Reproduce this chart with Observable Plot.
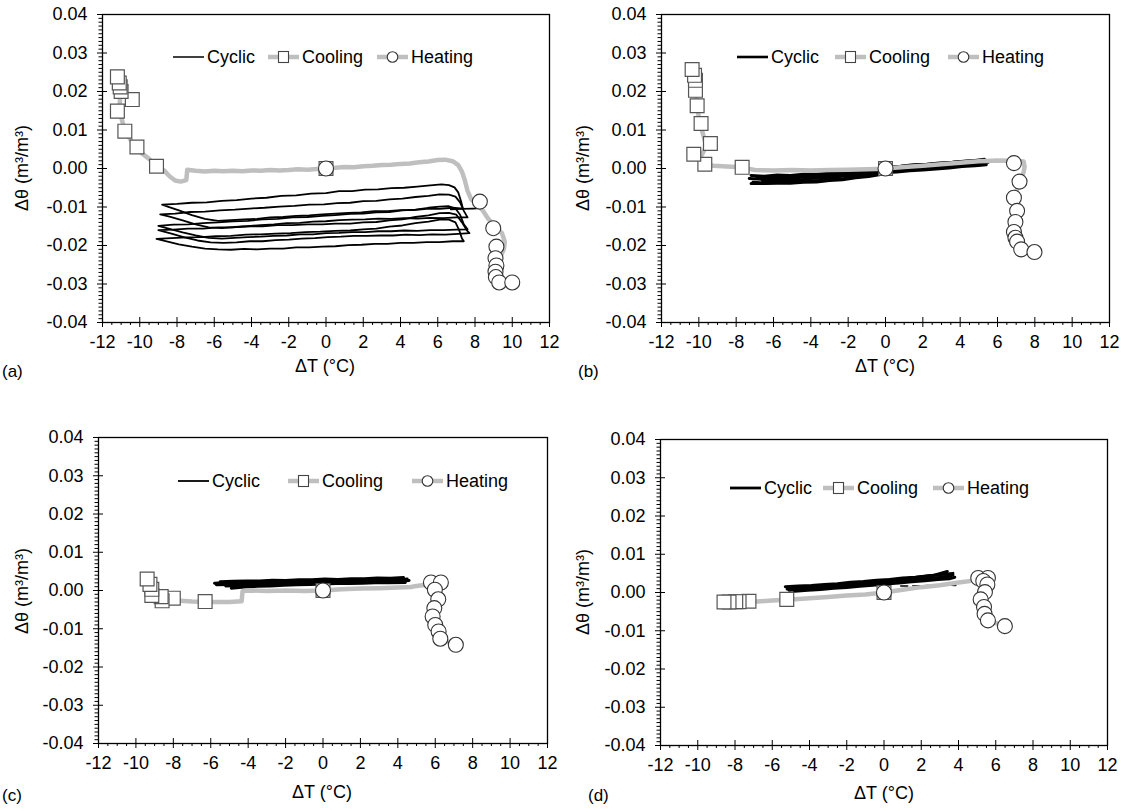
<!DOCTYPE html>
<html><head><meta charset="utf-8">
<script src="https://cdn.jsdelivr.net/npm/d3@7"></script>
<script src="https://cdn.jsdelivr.net/npm/@observablehq/plot@0.6"></script>
<style>
body{margin:0;background:#fff;font-family:"Liberation Sans",Arial,sans-serif;}
#fig{position:relative;width:1125px;height:811px;overflow:hidden;background:#fff;}
.panel{position:absolute;}
.txt{position:absolute;white-space:nowrap;color:#000;line-height:1;}
</style></head>
<body><div id="fig"></div>
<script>
// ---------- tick labels ----------
const xTicks = [-12,-10,-8,-6,-4,-2,0,2,4,6,8,10,12];
const yTicks = [-0.04,-0.03,-0.02,-0.01,0,0.01,0.02,0.03,0.04];
const xMinor = d3.range(-24,25).filter(i => i % 4 !== 0).map(i => i/2);
const yMinor = d3.range(-40,41).filter(i => i % 10 !== 0).map(i => i/1000);
const legendLabels = ["Cyclic","Cooling","Heating"];
const panelNames = ["(a)","(b)","(c)","(d)"];
const xTitle = "ΔT (°C)";
const yTitle = "Δθ (m³/m³)";

// ---------- panel (a) ----------
const cycA = [
 [[-8.8,-0.0094],[-8.0,-0.0092],[-7.2,-0.0089],[-6.4,-0.0088],[-5.6,-0.0084],[-4.8,-0.0082],[-4.0,-0.0078],[-3.2,-0.0076],[-2.4,-0.0071],[-1.6,-0.0070],[-0.8,-0.0065],[0.0,-0.0064],[0.7,-0.0059],[1.4,-0.0059],[2.1,-0.0055],[2.8,-0.0054],[3.5,-0.0051],[4.2,-0.0050],[4.9,-0.0047],[5.6,-0.0044],[6.2,-0.0041],[6.6,-0.0043],[6.9,-0.0049],[7.1,-0.0062],[7.25,-0.0085],[7.35,-0.0104],
  [6.8,-0.0102],[6.1,-0.0105],[5.4,-0.0105],[4.7,-0.0108],[4.0,-0.0108],[3.3,-0.0111],[2.6,-0.0111],[1.9,-0.0114],[1.2,-0.0115],[0.5,-0.0117],[-0.2,-0.0119],[-0.9,-0.0122],[-1.6,-0.0123],[-2.3,-0.0126],[-3.0,-0.0127],[-3.7,-0.0131],[-4.4,-0.0132],[-5.1,-0.0134],[-5.8,-0.0136],[-6.5,-0.0131],[-7.2,-0.0121],[-7.9,-0.0109],[-8.5,-0.0099],[-8.8,-0.0094]],
 [[-8.9,-0.0119],[-8.1,-0.0117],[-7.3,-0.0113],[-6.5,-0.0112],[-5.7,-0.0109],[-4.9,-0.0107],[-4.1,-0.0104],[-3.3,-0.0102],[-2.5,-0.0099],[-1.7,-0.0097],[-0.9,-0.0094],[-0.1,-0.0093],[0.6,-0.0090],[1.3,-0.0089],[2.0,-0.0085],[2.7,-0.0084],[3.4,-0.0080],[4.1,-0.0078],[4.8,-0.0074],[5.5,-0.0071],[6.1,-0.0067],[6.6,-0.0068],[6.95,-0.0073],[7.2,-0.0088],[7.4,-0.0110],[7.6,-0.0127],
  [7.0,-0.0127],[6.3,-0.0129],[5.6,-0.0128],[4.9,-0.0130],[4.2,-0.0129],[3.5,-0.0131],[2.8,-0.0130],[2.1,-0.0132],[1.4,-0.0133],[0.7,-0.0134],[0.0,-0.0137],[-0.7,-0.0138],[-1.4,-0.0141],[-2.1,-0.0142],[-2.8,-0.0145],[-3.5,-0.0147],[-4.2,-0.0150],[-4.9,-0.0152],[-5.6,-0.0155],[-6.3,-0.0153],[-7.0,-0.0145],[-7.7,-0.0135],[-8.4,-0.0125],[-8.9,-0.0119]],
 [[-9.0,-0.0149],[-8.2,-0.0146],[-7.4,-0.0145],[-6.6,-0.0142],[-5.8,-0.0140],[-5.0,-0.0137],[-4.2,-0.0136],[-3.4,-0.0132],[-2.6,-0.0131],[-1.8,-0.0127],[-1.0,-0.0126],[-0.2,-0.0123],[0.5,-0.0121],[1.3,-0.0118],[2.0,-0.0117],[2.7,-0.0114],[3.4,-0.0113],[4.1,-0.0109],[4.8,-0.0107],[5.5,-0.0102],[6.1,-0.0099],[6.6,-0.0098],[6.95,-0.0104],[7.2,-0.0120],[7.4,-0.0145],[7.6,-0.0158],
  [7.0,-0.0159],[6.3,-0.0160],[5.6,-0.0160],[4.9,-0.0162],[4.2,-0.0161],[3.5,-0.0163],[2.8,-0.0163],[2.1,-0.0165],[1.4,-0.0165],[0.7,-0.0167],[0.0,-0.0168],[-0.7,-0.0171],[-1.4,-0.0171],[-2.1,-0.0174],[-2.8,-0.0175],[-3.5,-0.0177],[-4.2,-0.0178],[-4.9,-0.0180],[-5.6,-0.0182],[-6.3,-0.0180],[-7.0,-0.0174],[-7.7,-0.0166],[-8.4,-0.0157],[-9.0,-0.0149]],
 [[-9.0,-0.0160],[-8.2,-0.0159],[-7.4,-0.0156],[-6.6,-0.0156],[-5.8,-0.0153],[-5.0,-0.0153],[-4.2,-0.0150],[-3.4,-0.0150],[-2.6,-0.0147],[-1.8,-0.0147],[-1.0,-0.0145],[-0.2,-0.0145],[0.5,-0.0143],[1.3,-0.0143],[2.0,-0.0140],[2.7,-0.0139],[3.4,-0.0135],[4.1,-0.0132],[4.8,-0.0126],[5.5,-0.0122],[6.1,-0.0116],[6.6,-0.0115],[7.0,-0.0120],[7.3,-0.0140],[7.55,-0.0160],[7.7,-0.0168],
  [7.1,-0.0170],[6.4,-0.0172],[5.7,-0.0171],[5.0,-0.0173],[4.3,-0.0172],[3.6,-0.0174],[2.9,-0.0174],[2.2,-0.0175],[1.5,-0.0175],[0.8,-0.0177],[0.1,-0.0178],[-0.6,-0.0181],[-1.3,-0.0182],[-2.0,-0.0185],[-2.7,-0.0186],[-3.4,-0.0189],[-4.1,-0.0189],[-4.8,-0.0192],[-5.5,-0.0193],[-6.2,-0.0192],[-6.9,-0.0187],[-7.6,-0.0179],[-8.3,-0.0169],[-9.0,-0.0160]],
 [[-9.1,-0.0183],[-8.3,-0.0181],[-7.5,-0.0179],[-6.7,-0.0178],[-5.9,-0.0176],[-5.1,-0.0175],[-4.3,-0.0172],[-3.5,-0.0171],[-2.7,-0.0169],[-1.9,-0.0168],[-1.1,-0.0165],[-0.3,-0.0164],[0.5,-0.0162],[1.3,-0.0161],[2.0,-0.0158],[2.7,-0.0156],[3.4,-0.0151],[4.1,-0.0148],[4.8,-0.0142],[5.5,-0.0138],[6.1,-0.0133],[6.6,-0.0133],[6.95,-0.0140],[7.15,-0.0160],[7.3,-0.0182],[7.4,-0.0189],
  [6.8,-0.0189],[6.1,-0.0191],[5.4,-0.0191],[4.7,-0.0193],[4.0,-0.0193],[3.3,-0.0196],[2.6,-0.0196],[1.9,-0.0198],[1.2,-0.0199],[0.5,-0.0202],[-0.2,-0.0203],[-0.9,-0.0205],[-1.6,-0.0205],[-2.3,-0.0208],[-3.0,-0.0208],[-3.7,-0.0210],[-4.4,-0.0209],[-5.1,-0.0211],[-5.8,-0.0210],[-6.5,-0.0208],[-7.2,-0.0203],[-7.9,-0.0197],[-8.5,-0.0190],[-9.1,-0.0183]],
 [[6.7,-0.0106],[7.3,-0.0105],[7.9,-0.0104],[8.3,-0.0103]]
];
const coolLineA = [[0,0],[-0.5,-0.0001],[-1,-0.0003],[-1.5,-0.0002],[-2,-0.0004],[-2.5,-0.0005],[-3,-0.0004],[-3.5,-0.0006],[-4,-0.0005],[-4.5,-0.0007],[-5,-0.0006],[-5.5,-0.0007],[-6,-0.0006],[-6.5,-0.0008],[-7,-0.0006],[-7.45,-0.0003],[-7.5,-0.0030],[-7.8,-0.0034],[-8.1,-0.0031],[-8.4,-0.0020],[-8.7,-0.0005],[-9.1,0.0008],[-9.5,0.0025],[-9.9,0.0040],[-10.2,0.0058],[-10.5,0.0075],[-10.8,0.0098],[-10.95,0.0125],[-11.1,0.0155],[-11.05,0.0185],[-10.9,0.0200],[-11.1,0.0215],[-11.2,0.0235]];
const heatLineA = [[0,0],[0.5,0.0002],[1,0.0004],[1.5,0.0003],[2,0.0006],[2.5,0.0007],[3,0.0009],[3.5,0.0010],[4,0.0012],[4.5,0.0013],[5,0.0016],[5.5,0.0018],[6,0.0022],[6.4,0.0023],[6.8,0.0019],[7.1,0.0009],[7.3,-0.0008],[7.45,-0.0030],[7.6,-0.0058],[7.8,-0.0080],[8.1,-0.0093],[8.4,-0.0108],[8.7,-0.0130],[9.1,-0.0152],[9.45,-0.0168],[9.6,-0.0190],[9.55,-0.0210],[9.3,-0.0235],[9.2,-0.0260],[9.2,-0.0285],[9.4,-0.0298]];
const coolMarksA = [[0,0],[-9.1,0.0006],[-10.15,0.0056],[-10.8,0.0097],[-11.2,0.0149],[-10.4,0.0179],[-11.0,0.0200],[-11.05,0.0212],[-11.1,0.0222],[-11.2,0.0238]];
const heatMarksA = [[0,0],[8.26,-0.0086],[8.98,-0.0155],[9.15,-0.0203],[9.1,-0.0233],[9.15,-0.0252],[9.1,-0.0268],[9.12,-0.0282],[9.3,-0.0296],[10.0,-0.0296]];

// ---------- panel (b) ----------
const cycB = [
 [[-7.2,-0.0018],[-6.5,-0.0020],[-5.8,-0.0017],[-5.1,-0.0018],[-4.4,-0.0015],[-3.7,-0.0015],[-3.0,-0.0012],[-2.3,-0.0011],[-1.6,-0.0007],[-0.9,-0.0005],[-0.2,0.0001],[0.5,0.0004],[1.2,0.0007],[1.9,0.0009],[2.6,0.0012],[3.3,0.0014],[4.0,0.0018],[4.7,0.0020],[5.3,0.0024]],
 [[-7.3,-0.0026],[-6.6,-0.0028],[-5.9,-0.0025],[-5.2,-0.0026],[-4.5,-0.0023],[-3.8,-0.0023],[-3.1,-0.0019],[-2.4,-0.0018],[-1.7,-0.0014],[-1.0,-0.0012],[-0.3,-0.0005],[0.4,-0.0002],[1.1,0.0002],[1.8,0.0004],[2.5,0.0008],[3.2,0.0009],[3.9,0.0013],[4.6,0.0014],[5.5,0.0016]],
 [[-7.1,-0.0036],[-6.4,-0.0038],[-5.7,-0.0035],[-5.0,-0.0035],[-4.3,-0.0032],[-3.6,-0.0032],[-2.9,-0.0027],[-2.2,-0.0026],[-1.5,-0.0020],[-0.8,-0.0017],[-0.1,-0.0011],[0.6,-0.0009],[1.3,-0.0006],[2.0,-0.0004],[2.7,-0.0001],[3.4,0.0001],[4.1,0.0005],[4.8,0.0007],[5.4,0.0010]],
 [[-6.9,-0.0022],[-6.2,-0.0023],[-5.5,-0.0021],[-4.8,-0.0021],[-4.1,-0.0018],[-3.4,-0.0018],[-2.7,-0.0015],[-2.0,-0.0014],[-1.3,-0.0008],[-0.6,-0.0004],[0.1,0.0003],[0.8,0.0006],[1.5,0.0010],[2.2,0.0011],[2.9,0.0014],[3.6,0.0016],[4.3,0.0019],[4.9,0.0021]],
 [[-6.6,-0.0031],[-5.9,-0.0031],[-5.2,-0.0028],[-4.5,-0.0029],[-3.8,-0.0025],[-3.1,-0.0025],[-2.4,-0.0020],[-1.7,-0.0018],[-1.0,-0.0012],[-0.3,-0.0009],[0.4,-0.0005],[1.1,-0.0004],[1.8,-0.0001],[2.5,0.0001],[3.2,0.0004],[3.9,0.0006],[4.6,0.0009],[5.1,0.0010]],
 [[-7.2,-0.0039],[-6.5,-0.0039],[-5.8,-0.0038],[-5.1,-0.0038],[-4.4,-0.0036],[-3.7,-0.0035],[-3.0,-0.0031],[-2.3,-0.0029],[-1.6,-0.0024],[-0.9,-0.0021],[-0.2,-0.0015]]
];
const coolLineB = [[0,0],[-0.5,-0.0001],[-1,-0.0002],[-2,-0.0003],[-3,-0.0004],[-4,-0.0005],[-5,-0.0004],[-6,-0.0005],[-7,-0.0004],[-7.3,-0.0001],[-7.7,0.0003],[-8.5,0.0005],[-9.2,0.0007],[-9.7,0.0010],[-9.9,0.0030],[-9.6,0.0058],[-9.75,0.0085],[-9.95,0.0117],[-10.05,0.0150],[-10.15,0.0190],[-10.2,0.0230],[-10.36,0.0257]];
const heatLineB = [[0,0],[0.5,0.0002],[1,0.0004],[2,0.0007],[3,0.0011],[4,0.0015],[5,0.0019],[6,0.0021],[6.8,0.0020],[7.4,0.0018],[7.45,0.0005],[7.4,-0.0010],[7.25,-0.0030],[7.0,-0.0060],[6.9,-0.0085],[7.0,-0.0110],[6.95,-0.0140],[6.9,-0.0165],[7.0,-0.0185],[7.25,-0.0208],[7.98,-0.0217]];
const coolMarksB = [[0,0],[-7.68,0.0003],[-9.68,0.0011],[-10.27,0.0037],[-9.38,0.0065],[-9.88,0.0117],[-10.09,0.0163],[-10.18,0.0203],[-10.18,0.0229],[-10.23,0.0242],[-10.36,0.0257]];
const heatMarksB = [[0,0],[6.88,0.0014],[7.18,-0.0034],[6.88,-0.0076],[7.05,-0.0110],[6.96,-0.0139],[6.88,-0.0165],[6.96,-0.0180],[7.05,-0.0190],[7.27,-0.0210],[7.98,-0.0217]];

// ---------- panel (c) ----------
const cycC = [
 [[-5.8,0.0019],[-5.1,0.0021],[-4.4,0.0020],[-3.7,0.0022],[-3.0,0.0021],[-2.3,0.0023],[-1.6,0.0022],[-0.9,0.0024],[-0.2,0.0024],[0.5,0.0026],[1.2,0.0025],[1.9,0.0027],[2.6,0.0027],[3.3,0.0029],[4.0,0.0028],[4.5,0.0030]],
 [[-5.7,0.0015],[-5.0,0.0016],[-4.3,0.0018],[-3.6,0.0017],[-2.9,0.0019],[-2.2,0.0019],[-1.5,0.0021],[-0.8,0.0020],[-0.1,0.0022],[0.6,0.0022],[1.3,0.0023],[2.0,0.0024],[2.7,0.0024],[3.4,0.0026],[4.1,0.0025],[4.6,0.0026]],
 [[-5.5,0.0023],[-4.8,0.0024],[-4.1,0.0025],[-3.4,0.0025],[-2.7,0.0027],[-2.0,0.0026],[-1.3,0.0028],[-0.6,0.0028],[0.1,0.0030],[0.8,0.0029],[1.5,0.0031],[2.2,0.0031],[2.9,0.0033],[3.6,0.0032],[4.3,0.0034]],
 [[-4.9,0.0006],[-4.2,0.0009],[-3.5,0.0011],[-2.8,0.0012],[-2.1,0.0014],[-1.4,0.0015],[-0.7,0.0016],[0.0,0.0017],[0.7,0.0018],[1.4,0.0018],[2.1,0.0019],[2.8,0.0020],[3.5,0.0020],[4.4,0.0021]],
 [[-5.2,0.0012],[-4.5,0.0013],[-3.8,0.0015],[-3.1,0.0015],[-2.4,0.0017],[-1.7,0.0017],[-1.0,0.0019],[-0.3,0.0019],[0.4,0.0020],[1.1,0.0021],[1.8,0.0021],[2.5,0.0022],[3.2,0.0023],[4.2,0.0023]],
 [[-5.6,0.0017],[-4.9,0.0019],[-4.2,0.0019],[-3.5,0.0020],[-2.8,0.0020],[-2.1,0.0021],[-1.4,0.0023],[-0.7,0.0022],[0.0,0.0023],[0.7,0.0024],[1.4,0.0024],[2.1,0.0025],[2.8,0.0026],[3.5,0.0027],[4.4,0.0027]]
];
const coolLineC = [[0,0],[-1,-0.0001],[-2,0.0000],[-3,-0.0001],[-4,0.0000],[-4.3,-0.0002],[-4.35,-0.0028],[-5,-0.0030],[-6,-0.0030],[-7,-0.0029],[-7.8,-0.0026],[-8.3,-0.0022],[-8.8,-0.0020],[-9.2,-0.0012],[-9.3,0.0005],[-9.4,0.0030]];
const heatLineC = [[0,0],[1,0.0003],[2,0.0005],[3,0.0006],[4,0.0008],[4.7,0.0009],[5.0,0.0012],[5.5,0.0015],[5.8,0.0020],[6.0,0.0005],[6.1,-0.0020],[5.95,-0.0045],[5.9,-0.0068],[6.05,-0.0090],[6.2,-0.0108],[6.3,-0.0126],[7.1,-0.0142]];
const coolMarksC = [[0,0],[-6.3,-0.0029],[-8.0,-0.0020],[-8.6,-0.0027],[-8.65,-0.0016],[-9.15,-0.0013],[-9.15,0.0003],[-9.25,0.0016],[-9.4,0.0030]];
const heatMarksC = [[0,0],[5.77,0.0021],[6.3,0.0021],[5.98,0.0002],[6.16,-0.0023],[5.95,-0.0046],[5.86,-0.0068],[6.0,-0.0090],[6.18,-0.0107],[6.27,-0.0126],[7.1,-0.0142]];

// ---------- panel (d) ----------
const cycD = [
 [[-5.3,0.0015],[-4.6,0.0017],[-3.9,0.0018],[-3.2,0.0021],[-2.5,0.0023],[-1.8,0.0027],[-1.1,0.0029],[-0.4,0.0032],[0.3,0.0034],[1.0,0.0038],[1.7,0.0040],[2.4,0.0044],[3.1,0.0047],[3.7,0.0050]],
 [[-5.2,0.0009],[-4.5,0.0011],[-3.8,0.0013],[-3.1,0.0015],[-2.4,0.0018],[-1.7,0.0020],[-1.0,0.0023],[-0.3,0.0025],[0.4,0.0028],[1.1,0.0031],[1.8,0.0034],[2.5,0.0037],[3.2,0.0040],[3.6,0.0044]],
 [[-4.8,0.0003],[-4.1,0.0006],[-3.4,0.0008],[-2.7,0.0011],[-2.0,0.0013],[-1.3,0.0016],[-0.6,0.0019],[0.1,0.0022],[0.8,0.0025],[1.5,0.0028],[2.2,0.0031],[2.9,0.0034],[3.5,0.0036],[3.8,0.0040]],
 [[-5.0,0.0012],[-4.3,0.0014],[-3.6,0.0017],[-2.9,0.0019],[-2.2,0.0022],[-1.5,0.0025],[-0.8,0.0028],[-0.1,0.0031],[0.6,0.0034],[1.3,0.0037],[2.0,0.0041],[2.7,0.0045],[3.4,0.0055]],
 [[-5.1,0.0006],[-4.4,0.0008],[-3.7,0.0010],[-3.0,0.0013],[-2.3,0.0016],[-1.6,0.0018],[-0.9,0.0021],[-0.2,0.0024],[0.5,0.0027],[1.2,0.0030],[1.9,0.0033],[2.6,0.0036],[3.3,0.0042],[3.7,0.0046]],
 [[0.9,0.0017],[1.6,0.0017],[2.3,0.0018],[3.0,0.0018],[3.6,0.0019],[4.0,0.0018]]
];
const coolLineD = [[0,0],[-1,-0.0005],[-2,-0.0008],[-3,-0.0012],[-4,-0.0015],[-5,-0.0018],[-6,-0.0021],[-7,-0.0024],[-8,-0.0026],[-8.6,-0.0030]];
const heatLineD = [[0,0],[1,0.0007],[2,0.0014],[3,0.0019],[4,0.0026],[4.8,0.0031],[5.1,0.0036],[5.4,0.0030],[5.5,0.0015],[5.3,-0.0005],[5.2,-0.0020],[5.35,-0.0040],[5.45,-0.0058],[5.7,-0.0075],[6.49,-0.0088]];
const coolMarksD = [[0,0],[-5.22,-0.0018],[-7.25,-0.0023],[-7.78,-0.0024],[-7.96,-0.0024],[-8.32,-0.0025],[-8.59,-0.0025]];
const heatMarksD = [[0,0],[5.06,0.0038],[5.58,0.0038],[5.33,0.0030],[5.55,0.0021],[5.42,0.0001],[5.19,-0.0018],[5.37,-0.0038],[5.40,-0.0056],[5.58,-0.0073],[6.49,-0.0088]];

// ---------- layout ----------
const FONT = '"Liberation Sans", Arial, sans-serif';
const GRAY = "#bfbfbf";
const panels = [
 {cyc: cycA, coolLine: coolLineA, heatLine: heatLineA, coolMarks: coolMarksA, heatMarks: heatMarksA, dashLast: false,
  left: 0, top: 0, ml: 102, mt: 14, w: 447, h: 308, mr: 11, cycW: 1.8,
  xt: [325, 366], yt: [22, 168], pl: [2, 371], leg: {y: 57, xs: [173, 268, 377], cw: 1.5}},
 {cyc: cycB, coolLine: coolLineB, heatLine: heatLineB, coolMarks: coolMarksB, heatMarks: heatMarksB, dashLast: false,
  left: 560, top: 0, ml: 101, mt: 14, w: 448, h: 308, mr: 16, cycW: 3,
  xt: [885, 366], yt: [583, 168], pl: [578, 371], leg: {y: 57, xs: [737, 835, 948], cw: 2.6}},
 {cyc: cycC, coolLine: coolLineC, heatLine: heatLineC, coolMarks: coolMarksC, heatMarks: heatMarksC, dashLast: false,
  left: 0, top: 420, ml: 98, mt: 17, w: 449, h: 306, mr: 13, cycW: 3,
  xt: [322, 792], yt: [22, 591], pl: [2, 795], leg: {y: 481, xs: [178, 288, 412], cw: 1.8}},
 {cyc: cycD, coolLine: coolLineD, heatLine: heatLineD, coolMarks: coolMarksD, heatMarks: heatMarksD, dashLast: true,
  left: 560, top: 420, ml: 100, mt: 19, w: 447, h: 306, mr: 18, cycW: 3,
  xt: [884, 793], yt: [583, 592], pl: [588, 795], leg: {y: 488, xs: [730, 823, 933], cw: 2.8}}
];

const fig = document.getElementById("fig");
function addText(str, x, y, size, opts = {}) {
  const d = document.createElement("div");
  d.className = "txt";
  d.textContent = str;
  d.style.fontSize = size + "px";
  d.style.left = x + "px";
  d.style.top = y + "px";
  d.style.transform = opts.transform || "translate(0,-50%)";
  fig.appendChild(d);
  return d;
}

panels.forEach((p, idx) => {
  const mb = 40;
  const X = d => d[0], Y = d => d[1];
  const marks = [];
  p.cyc.forEach((line, i) => {
    const dashed = p.dashLast && i === p.cyc.length - 1;
    marks.push(Plot.line(line, {x: X, y: Y, stroke: "#000", strokeWidth: dashed ? 1.6 : p.cycW, strokeDasharray: dashed ? "7,5" : null}));
  });
  marks.push(
    Plot.line(p.coolLine, {x: X, y: Y, stroke: GRAY, strokeWidth: 4.5}),
    Plot.line(p.heatLine, {x: X, y: Y, stroke: GRAY, strokeWidth: 4.5}),
    Plot.dot(p.coolMarks, {x: X, y: Y, symbol: "square", r: 7.8, fill: "#fff", stroke: "#555", strokeWidth: 1.2}),
    Plot.dot(p.heatMarks, {x: X, y: Y, symbol: "circle", r: 7.5, fill: "#fff", stroke: "#333", strokeWidth: 1.1}),
    Plot.frame({stroke: "#000", strokeWidth: 1.3}),
    Plot.axisX({ticks: xMinor, tickSize: 3, tickFormat: () => "", label: null}),
    Plot.axisY({ticks: yMinor, tickSize: 3.5, tickFormat: () => "", label: null}),
    Plot.axisX({ticks: xTicks, tickSize: 5, tickPadding: 8, tickFormat: d => String(d), label: null, fontSize: 18}),
    Plot.axisY({ticks: yTicks, tickSize: 5, tickPadding: 10, tickFormat: d => d.toFixed(2), label: null, fontSize: 18}),
    Plot.ruleX(xTicks, {x: d => d, insetTop: p.h - 5, stroke: "#000"}),
    Plot.ruleY(yTicks, {y: d => d, insetRight: p.w - 5, stroke: "#000"})
  );
  const svg = Plot.plot({
    width: p.ml + p.w + p.mr, height: p.mt + p.h + mb,
    marginLeft: p.ml, marginRight: p.mr, marginTop: p.mt, marginBottom: mb,
    x: {domain: [-12, 12]}, y: {domain: [-0.04, 0.04]},
    style: {fontFamily: FONT, fontSize: "18px", color: "#000", background: "transparent", overflow: "visible"},
    marks
  });
  const holder = document.createElement("div");
  holder.className = "panel";
  holder.style.left = p.left + "px";
  holder.style.top = p.top + "px";
  holder.appendChild(svg);
  fig.appendChild(holder);

  addText(xTitle, p.xt[0], p.xt[1], 18, {transform: "translate(-50%,-50%)"});
  addText(yTitle, p.yt[0], p.yt[1], 18, {transform: "translate(-50%,-50%) rotate(-90deg)"});
  addText(panelNames[idx], p.pl[0], p.pl[1], 17);

  const kinds = ["cyc", "cool", "heat"];
  kinds.forEach((k, j) => {
    const x0 = p.leg.xs[j];
    const ns = "http://www.w3.org/2000/svg";
    const s = document.createElementNS(ns, "svg");
    s.setAttribute("width", 32); s.setAttribute("height", 14);
    s.style.position = "absolute"; s.style.left = x0 + "px"; s.style.top = (p.leg.y - 7) + "px";
    const ln = document.createElementNS(ns, "line");
    ln.setAttribute("x1", 0); ln.setAttribute("x2", 31); ln.setAttribute("y1", 7); ln.setAttribute("y2", 7);
    ln.setAttribute("stroke", k === "cyc" ? "#000" : GRAY);
    ln.setAttribute("stroke-width", k === "cyc" ? p.leg.cw : 4.5);
    s.appendChild(ln);
    if (k === "cool") {
      const r = document.createElementNS(ns, "rect");
      r.setAttribute("x", 10.5); r.setAttribute("y", 1.5); r.setAttribute("width", 10); r.setAttribute("height", 11);
      r.setAttribute("fill", "#fff"); r.setAttribute("stroke", "#444"); r.setAttribute("stroke-width", 1.1);
      s.appendChild(r);
    } else if (k === "heat") {
      const c = document.createElementNS(ns, "circle");
      c.setAttribute("cx", 15.5); c.setAttribute("cy", 7); c.setAttribute("r", 5.3);
      c.setAttribute("fill", "#fff"); c.setAttribute("stroke", "#333"); c.setAttribute("stroke-width", 1.1);
      s.appendChild(c);
    }
    fig.appendChild(s);
    addText(legendLabels[j], x0 + 34, p.leg.y, 18);
  });
});
</script>
</body></html>
